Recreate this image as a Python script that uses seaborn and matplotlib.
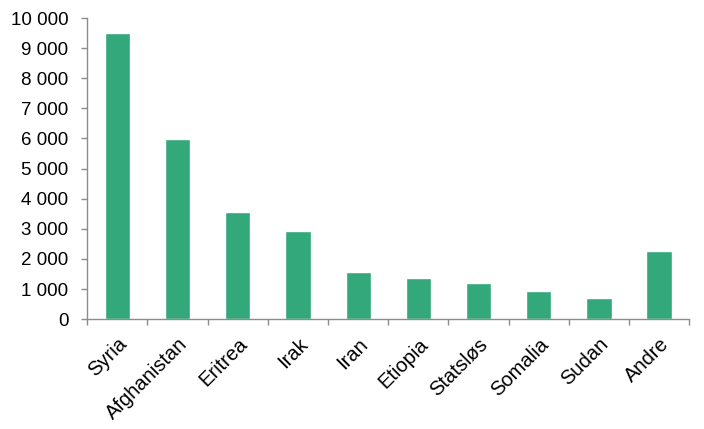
import matplotlib
matplotlib.use("Agg")
import matplotlib.pyplot as plt
import matplotlib.ticker as mticker
import numpy as np
import pandas as pd
import seaborn as sns

# ── Data ───────────────────────────────────────────────────────────────────────
COUNTRIES = ["Syria", "Afghanistan", "Eritrea", "Irak", "Iran",
             "Etiopia", "Statsløs", "Somalia", "Sudan", "Andre"]
ASYLUM    = [9500, 5980, 3560, 2930, 1570, 1370, 1200, 930, 700, 2260]
Y_TICKS   = [0, 1000, 2000, 3000, 4000, 5000, 6000, 7000, 8000, 9000, 10000]

BAR_COLOR  = "#33a97b"
AXIS_COLOR = "#8c8c8c"

# ── Style ──────────────────────────────────────────────────────────────────────
sns.set_theme(style="white")
plt.rcParams["font.family"] = ["Liberation Sans", "DejaVu Sans"]

df = pd.DataFrame({"land": COUNTRIES, "antall": ASYLUM})

fig, ax = plt.subplots(figsize=(7.04, 4.29), dpi=100)
fig.subplots_adjust(left=0.124, right=0.979, top=0.958, bottom=0.256)

sns.barplot(data=df, x="land", y="antall", color=BAR_COLOR, width=0.42,
            saturation=1, ax=ax)

ax.set_xlim(-0.5, len(COUNTRIES) - 0.5)
ax.set_ylim(0, 10000)
ax.set_yticks(Y_TICKS)
ax.yaxis.set_major_formatter(
    mticker.FuncFormatter(lambda v, _: f"{int(v):,}".replace(",", " ")))

# category ticks on the boundaries, labels at the centres
ax.set_xticks(np.arange(len(COUNTRIES)))
ax.set_xticklabels(COUNTRIES, rotation=45, ha="right", rotation_mode="anchor",
                   fontsize=14.5, color="black")
ax.set_xticks(np.arange(len(COUNTRIES) + 1) - 0.5, minor=True)
ax.tick_params(axis="x", which="major", length=0, pad=11)
ax.tick_params(axis="x", which="minor", length=4, width=1, color=AXIS_COLOR,
               direction="out", bottom=True)
ax.tick_params(axis="y", length=4.5, width=1, color=AXIS_COLOR, direction="out",
               left=True, labelsize=13.5, labelcolor="black", pad=9)

ax.set_xlabel(""); ax.set_ylabel("")
for side in ["top", "right"]:
    ax.spines[side].set_visible(False)
for side in ["left", "bottom"]:
    ax.spines[side].set_color(AXIS_COLOR)
    ax.spines[side].set_linewidth(1)

fig.savefig("out.png", dpi=100)
